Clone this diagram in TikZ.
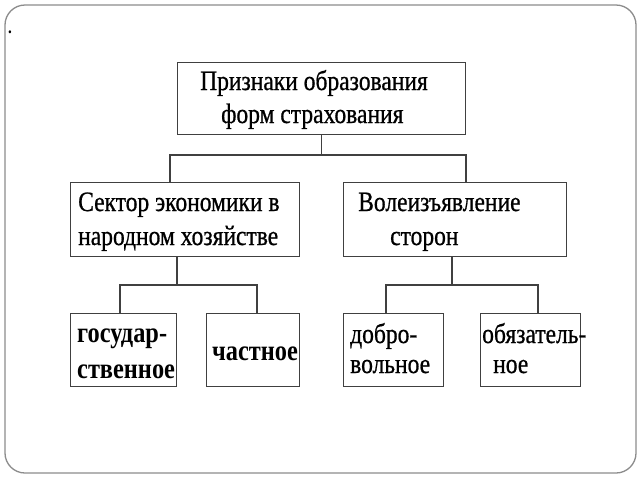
\documentclass[tikz,border=0pt]{standalone}
\usepackage{fontspec}
\setmainfont{Liberation Serif}[FakeStretch=0.84]
\newfontfamily\heavyregular{Liberation Serif}[FakeStretch=0.84,FakeBold=0.7]
\begin{document}
\begin{tikzpicture}[x=1pt,y=-1pt,
  box/.style={draw=black!75,line width=1.1pt,inner sep=0pt,anchor=north west},
  lbl/.style={inner sep=0pt,anchor=base west,font=\fontsize{28}{30}\heavyregular},
  blbl/.style={inner sep=0pt,anchor=base west,font=\fontsize{29}{31}\selectfont\bfseries},
  conn/.style={draw=black!75,line width=1.1pt}]
\useasboundingbox (0,0) rectangle (640,480);
\draw[draw=black!45,line width=1.3pt,rounded corners=20pt] (5,5) rectangle (636,473);
\node[inner sep=0pt,font=\fontsize{18}{18}\selectfont\bfseries] (dot) at (10,32) {.};
% boxes
\node[box,minimum width=288pt,minimum height=72pt] (top) at (177,62) {};
\node[box,minimum width=229pt,minimum height=74pt] (L) at (70,182) {};
\node[box,minimum width=223pt,minimum height=74pt] (R) at (343,182) {};
\node[box,minimum width=106pt,minimum height=73pt] (LL) at (70,313) {};
\node[box,minimum width=93pt,minimum height=73pt] (LR) at (206,313) {};
\node[box,minimum width=100pt,minimum height=73pt] (RL) at (343,313) {};
\node[box,minimum width=100pt,minimum height=73pt] (RR) at (480,313) {};
% texts
\node[lbl] (t1) at (200,90) {Признаки образования};
\node[lbl] (t2) at (221,123) {форм страхования};
\node[lbl] (l1) at (78,211) {Сектор экономики в};
\node[lbl] (l2) at (78,245) {народном хозяйстве};
\node[lbl] (r1) at (358,211) {Волеизъявление};
\node[lbl] (r2) at (390,245) {сторон};
\node[blbl] (ll1) at (77,342) {государ-};
\node[blbl] (ll2) at (77,378) {ственное};
\node[blbl] (lr1) at (212,360) {частное};
\node[lbl] (rl1) at (350,343) {добро-};
\node[lbl] (rl2) at (350,373) {вольное};
\node[lbl] (rr1) at (482,343) {обязатель-};
\node[lbl] (rr2) at (493,373) {ное};
% connectors
\coordinate (bA1) at (170,155);
\coordinate (bA2) at (466,155);
\coordinate (bB1) at (120,285);
\coordinate (bB2) at (257,285);
\coordinate (bC1) at (386,285);
\coordinate (bC2) at (538,285);
\coordinate (dL) at (177,256);
\coordinate (dR) at (452,256);
\draw[conn] (top.south) -- (top.south |- bA1);
\draw[conn] (bA1 |- L.north) -- (bA1) -- (bA2) -- (bA2 |- R.north);
\draw[conn] (dL) -- (dL |- bB1);
\draw[conn] (bB1 |- LL.north) -- (bB1) -- (bB2) -- (bB2 |- LR.north);
\draw[conn] (dR) -- (dR |- bC1);
\draw[conn] (bC1 |- RL.north) -- (bC1) -- (bC2) -- (bC2 |- RR.north);
\end{tikzpicture}
\end{document}
